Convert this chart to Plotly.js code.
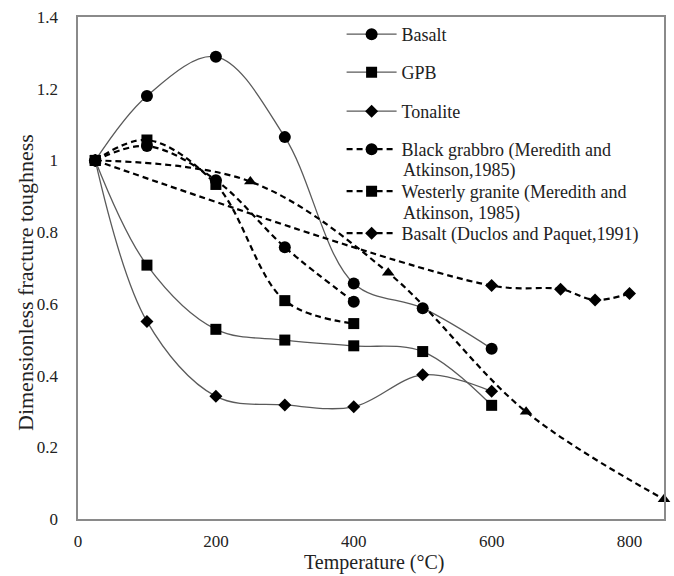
<!DOCTYPE html>
<html>
<head>
<meta charset="utf-8">
<script src="https://cdn.plot.ly/plotly-3.0.1.min.js"></script>
<style>html,body{margin:0;padding:0;background:#fff;}#chart{width:674px;height:576px;}</style>
</head>
<body>
<div id="chart"></div>
<script>
// Data
const basaltT = [25, 100, 200, 300, 400, 500, 600];
const basaltK = [1.0, 1.18, 1.289, 1.065, 0.657, 0.588, 0.475];

const gpbT = [25, 100, 200, 300, 400, 500, 600];
const gpbK = [1.0, 0.708, 0.529, 0.499, 0.483, 0.467, 0.317];

const tonaliteT = [25, 100, 200, 300, 400, 500, 600];
const tonaliteK = [1.0, 0.551, 0.342, 0.318, 0.313, 0.402, 0.356];

const gabbroT = [25, 100, 200, 300, 400];
const gabbroK = [1.0, 1.04, 0.945, 0.758, 0.606];

const westerlyT = [25, 100, 200, 300, 400];
const westerlyK = [1.0, 1.057, 0.933, 0.609, 0.545];

const duclosT = [25, 600, 700, 750, 800];
const duclosK = [1.0, 0.651, 0.641, 0.611, 0.629];

const triT = [25, 250, 450, 650, 850];
const triK = [1.0, 0.941, 0.687, 0.299, 0.055];

const names = [
  "Basalt",
  "GPB",
  "Tonalite",
  "Black grabbro (Meredith and",
  "Westerly granite (Meredith and",
  "Basalt (Duclos and Paquet,1991)"
];
const nameContinuations = ["Atkinson,1985)", "Atkinson, 1985)"];

const FAM = "'Liberation Serif', Tinos, 'Times New Roman', Times, serif";
const TXT = '#222222';
const LEG_FONT = 18;

const solidLine = {color: '#5a5a5a', width: 1.3, shape: 'spline', smoothing: 1};
const dashLine = {color: '#000000', width: 2.2, dash: '6px,4px', shape: 'spline', smoothing: 1};

const legendIds = ['legend', 'legend2', 'legend3', 'legend4', 'legend5', 'legend6'];

function tr(x, y, name, line, symbol, size, i, show) {
  const t = {
    x: x, y: y, name: name, type: 'scatter', mode: 'lines+markers',
    line: line, marker: {symbol: symbol, size: size, color: '#000'},
    showlegend: show, cliponaxis: false
  };
  if (show) t.legend = legendIds[i];
  return t;
}

const data = [
  tr(basaltT, basaltK, names[0], solidLine, 'circle', 12, 0, true),
  tr(gpbT, gpbK, names[1], solidLine, 'square', 11, 1, true),
  tr(tonaliteT, tonaliteK, names[2], solidLine, 'diamond', 10, 2, true),
  tr(gabbroT, gabbroK, names[3], dashLine, 'circle', 12, 3, true),
  tr(westerlyT, westerlyK, names[4], dashLine, 'square', 11, 4, true),
  tr(duclosT, duclosK, names[5], dashLine, 'diamond', 10, 5, true),
  tr(triT, triK, 'Basalt (triangle)', dashLine, 'triangle-up', 11, 6, false)
];

const W = 674, H = 576, ML = 78, MR = 10, MT = 17, MB = 57;
const PW = W - ML - MR, PH = H - MT - MB;
const px = v => (v - ML) / PW;          // pixel x -> paper x
const py = v => (H - MB - v) / PH;      // pixel y -> paper y

// vertical centres (pixels) of the legend rows
const rowY = [35, 73, 112, 150, 192, 234];
const contY = [171, 213];

function legendAt(cy) {
  return {
    x: px(341.6), y: py(cy - 19), xanchor: 'left', yanchor: 'top',
    bgcolor: 'rgba(0,0,0,0)', borderwidth: 0,
    font: {family: FAM, size: LEG_FONT, color: TXT},
    itemwidth: 50
  };
}

const annotations = [
  {text: nameContinuations[0], xref: 'paper', yref: 'paper', x: px(402), y: py(contY[0]),
   xanchor: 'left', yanchor: 'middle', showarrow: false, borderpad: 0, font: {family: FAM, size: LEG_FONT, color: TXT}},
  {text: nameContinuations[1], xref: 'paper', yref: 'paper', x: px(402), y: py(contY[1]),
   xanchor: 'left', yanchor: 'middle', showarrow: false, borderpad: 0, font: {family: FAM, size: LEG_FONT, color: TXT}},
  {text: 'Temperature (°C)', xref: 'paper', yref: 'paper', x: px(374), y: py(575),
   xanchor: 'center', yanchor: 'bottom', showarrow: false, borderpad: 0, font: {family: FAM, size: 20, color: TXT}},
  {text: 'Dimensionless fracture toughness', xref: 'paper', yref: 'paper', x: px(25), y: py(283),
   xanchor: 'center', yanchor: 'middle', textangle: -90, showarrow: false, borderpad: 0, font: {family: FAM, size: 22, color: TXT}}
];

const layout = {
  width: W, height: H,
  margin: {l: ML, r: MR, t: MT, b: MB},
  paper_bgcolor: '#fff', plot_bgcolor: '#fff',
  font: {family: FAM, size: 17, color: TXT},
  showlegend: true,
  annotations: annotations,
  xaxis: {
    range: [0, 850], tickvals: [0, 200, 400, 600, 800],
    showgrid: false, zeroline: false, showline: true, mirror: true,
    linecolor: '#8a8a8a', linewidth: 1.6, ticks: '', ticklabelstandoff: 6,
    tickfont: {family: FAM, size: 17, color: TXT}
  },
  yaxis: {
    range: [0, 1.4], tickvals: [0, 0.2, 0.4, 0.6, 0.8, 1, 1.2, 1.4],
    showgrid: false, zeroline: false, showline: true, mirror: true,
    linecolor: '#8a8a8a', linewidth: 1.6, ticks: '', ticklabelstandoff: 15,
    tickfont: {family: FAM, size: 17, color: TXT}
  }
};
legendIds.forEach((id, i) => { layout[id] = legendAt(rowY[i]); });

Plotly.newPlot('chart', data, layout, {displayModeBar: false, staticPlot: true});
</script>
</body>
</html>
